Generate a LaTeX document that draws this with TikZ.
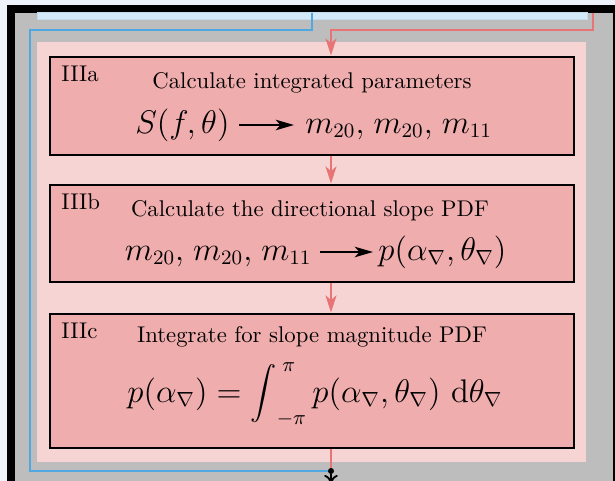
\documentclass[tikz,border=0pt]{standalone}
\usepackage{amsmath}
\usepackage{graphicx}
\usetikzlibrary{arrows.meta,calc}
\DeclareMathSizes{14.4}{14.4}{9}{6}
\newlength\pxu \setlength\pxu{0.44pt}
\newcommand\nbsub{\nabla}
\newcommand\redint{\mathop{\vcenter{\hbox{\scalebox{0.8}{$\displaystyle\int$}}}}\nolimits}
\definecolor{bgout}{HTML}{EEF3FB}
\definecolor{framegray}{HTML}{BDBDBD}
\definecolor{barblue}{HTML}{D3E9F7}
\definecolor{barbluedark}{HTML}{C3DCEC}
\definecolor{panelpink}{HTML}{F7D4D4}
\definecolor{boxpink}{HTML}{F0ADAE}
\definecolor{linered}{HTML}{E77575}
\definecolor{lineblue}{HTML}{4FA8E1}
\tikzset{
  stepbox/.style={draw=black, line width=1.3pt, fill=boxpink, inner sep=0pt, minimum width=524\pxu},
  lbl/.style={inner sep=0pt, font=\normalsize},
  ttl/.style={inner sep=0pt, font=\normalsize},
  mth/.style={inner sep=0pt, font=\Large},
  redline/.style={draw=linered, line width=1.1pt},
  blueline/.style={draw=lineblue, line width=1pt},
  rarrow/.style={-{Stealth[length=7.5pt,width=4.8pt,inset=2pt]}},
  marrow/.style={line width=0.9pt, -{Stealth[length=8pt,width=4.6pt,inset=2pt]}},
}
\begin{document}
\begin{tikzpicture}[x=0.44pt,y=-0.44pt]
\useasboundingbox (0,0) rectangle (615,481);
% background and frame
\fill[bgout] (0,0) rectangle (615,481);
\fill[black] (7,5) rectangle (630,500);
\fill[framegray] (15,12.7) rectangle (613,495);
\filldraw[fill=barblue, draw=barbluedark, line width=0.3pt] (37,12.7) rectangle (587,19.3);
\fill[panelpink] (37,42) rectangle (586,462);
% boxes
\node[stepbox, minimum height=98\pxu] (a) at (312,106) {};
\node[stepbox, minimum height=97\pxu] (b) at (312,233.5) {};
\node[stepbox, minimum height=134\pxu] (c) at (312,381) {};
% labels
\node[lbl, anchor=base west] (la) at (61,81) {IIIa};
\node[lbl, anchor=base west] (lb) at (61,209) {IIIb};
\node[lbl, anchor=base west] (lc) at (61,338) {IIIc};
% titles
\node[ttl, anchor=base] (ta) at (312,88) {Calculate integrated parameters};
\node[ttl, anchor=base] (tb) at (310,216) {Calculate the directional slope PDF};
\node[ttl, anchor=base] (tc) at (312,342) {Integrate for slope magnitude PDF};
% math rows
\node[mth, anchor=base east] (ma1) at (230,133) {$S(f,\theta)$};
\node[mth, anchor=base west] (ma2) at (305,133) {$m_{20},\mkern2mu m_{20},\mkern2mu m_{11}$};
\draw[marrow] ($(ma1.base east)+(9,-8)$) -- ($(ma2.base west)+(-11,-8)$);
\node[mth, anchor=base east] (mb1) at (312,260) {$m_{20},\mkern2mu m_{20},\mkern2mu m_{11}$};
\node[mth, anchor=base west] (mb2) at (378,260) {$p(\alpha_\nbsub,\theta_\nbsub)$};
\draw[marrow] ($(mb1.base east)+(8,-8)$) -- ($(mb2.base west)+(-5,-8)$);
\node[mth, anchor=base] (mc) at (315,402) {$p(\alpha_\nbsub) = \redint_{-\pi}^{\kern2.5pt\pi} p(\alpha_\nbsub,\theta_\nbsub)\ \mathrm{d}\theta_\nbsub$};
% connector points
\coordinate (rs) at (593,12.7);
\coordinate (rj) at (331,30);
\coordinate (bs) at (312,12.7);
\coordinate (bj) at (30,30);
\node[circle, fill=black, inner sep=0pt, minimum size=6\pxu] (dot) at (331,471) {};
\coordinate (bend) at (331,484);
% red flow
\draw[redline, rarrow] (rs) |- (rj) -- (a.north -| rj);
\draw[redline, rarrow] (a.south -| rj) -- (b.north -| rj);
\draw[redline, rarrow] (b.south -| rj) -- (c.north -| rj);
\draw[redline] (c.south -| rj) -- (dot);
% blue flow
\draw[blueline] (bs) |- (bj) |- (dot.west);
% black out arrow
\draw[line width=0.8pt, -{To[length=4pt,width=6pt]}] (dot) -- (bend);
\end{tikzpicture}
\end{document}
